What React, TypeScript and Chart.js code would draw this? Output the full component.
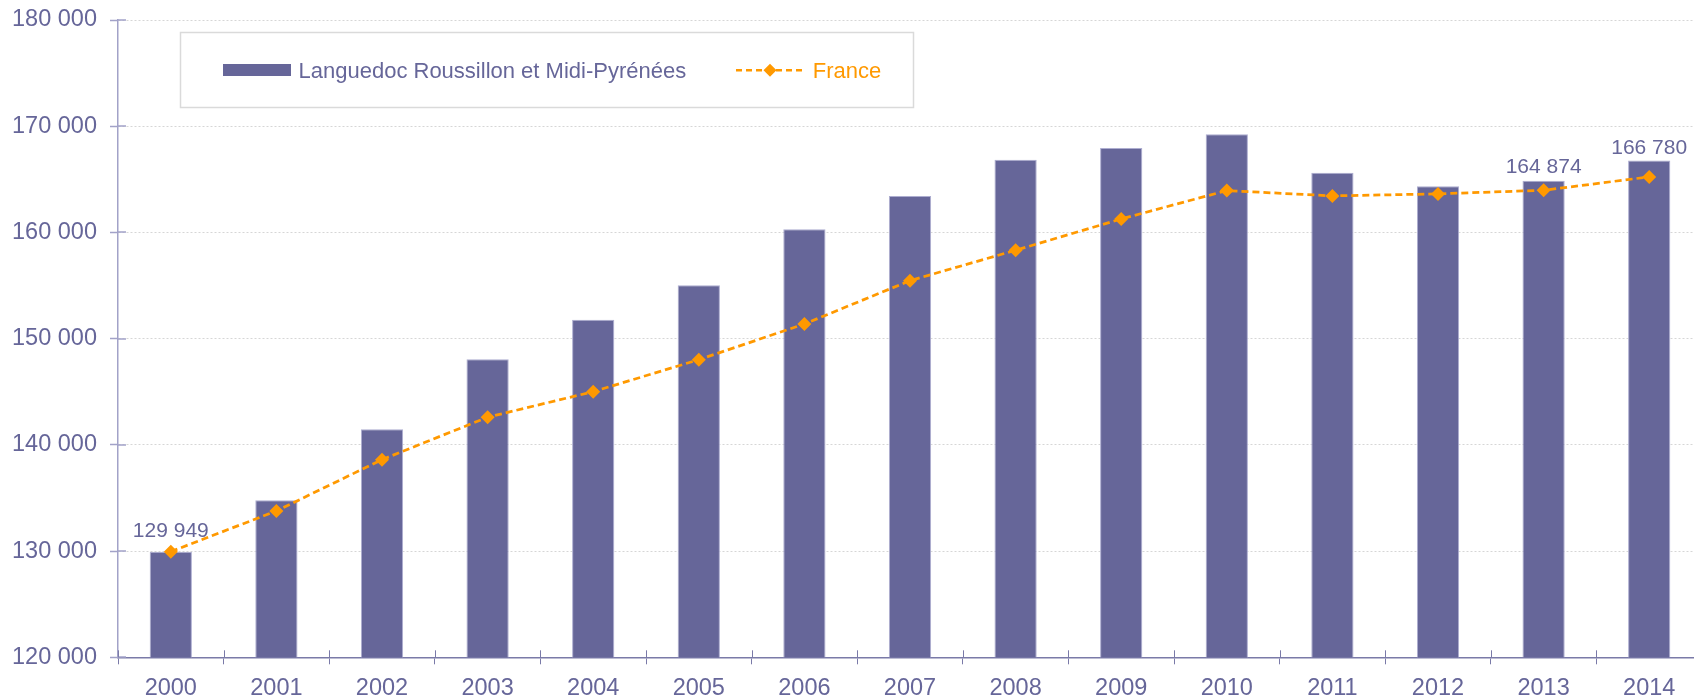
import React, { useEffect, useRef } from 'react';
import { Chart, registerables } from 'chart.js';

Chart.register(...registerables);

const years = ['2000', '2001', '2002', '2003', '2004', '2005', '2006', '2007', '2008', '2009', '2010', '2011', '2012', '2013', '2014'];
const regionValues = [129949, 134790, 141470, 148060, 151780, 155030, 160300, 163440, 166840, 167960, 169250, 165630, 164350, 164874, 166780];
const franceValues = [129949, 133780, 138610, 142600, 145010, 148020, 151380, 155460, 158320, 161270, 163940, 163440, 163630, 163970, 165230];
const labelledYears = ['2000', '2013', '2014'];
const seriesNames = ['Languedoc Roussillon et Midi-Pyrénées', 'France'];
const yMin = 120000;
const yMax = 180000;
const yStep = 10000;

const FONT = '"Liberation Sans", Arial, sans-serif';
const TEXT = '#666699';
const BAR = '#666699';
const ORANGE = '#FF9900';
const AXIS_X = '#7a7aa8';
const AXIS_Y = '#a2a2c8';

const fmt = (v: number) => String(Math.round(v)).replace(/\B(?=(\d{3})+(?!\d))/g, ' ');

const labelOffsets: Record<string, number> = { '2000': 15, '2013': 8, '2014': 6 };

const innerTicks = {
  id: 'innerTicks',
  afterDraw(chart: any) {
    const { ctx, scales } = chart;
    const x = scales.x;
    const y = scales.y;
    ctx.save();
    ctx.lineWidth = 1.5;
    ctx.strokeStyle = AXIS_Y;
    y.ticks.forEach((_t: any, i: number) => {
      const py = Math.round(y.getPixelForTick(i));
      ctx.beginPath();
      ctx.moveTo(x.left, py);
      ctx.lineTo(x.left + 8, py);
      ctx.stroke();
    });
    ctx.lineWidth = 1;
    ctx.strokeStyle = AXIS_X;
    const n = years.length;
    const w = (x.right - x.left) / n;
    for (let i = 0; i <= n; i++) {
      const px = Math.round(x.left + i * w) + 0.5;
      ctx.beginPath();
      ctx.moveTo(px, y.bottom);
      ctx.lineTo(px, y.bottom - 7);
      ctx.stroke();
    }
    ctx.restore();
  },
};

const barLabels = {
  id: 'barLabels',
  afterDatasetsDraw(chart: any) {
    const { ctx } = chart;
    const idx = chart.data.datasets.findIndex((d: any) => d.type === 'bar');
    const meta = chart.getDatasetMeta(idx);
    ctx.save();
    ctx.font = `21px ${FONT}`;
    ctx.fillStyle = TEXT;
    ctx.textAlign = 'center';
    ctx.textBaseline = 'alphabetic';
    meta.data.forEach((el: any, i: number) => {
      const yr = years[i];
      if (!labelledYears.includes(yr)) return;
      ctx.fillText(fmt(regionValues[i]), el.x, el.y - (labelOffsets[yr] ?? 8));
    });
    ctx.restore();
  },
};

const diamond = (ctx: any, cx: number, cy: number, r: number) => {
  ctx.beginPath();
  ctx.moveTo(cx - r, cy);
  ctx.lineTo(cx, cy - r);
  ctx.lineTo(cx + r, cy);
  ctx.lineTo(cx, cy + r);
  ctx.closePath();
  ctx.fill();
};

const customLegend = {
  id: 'customLegend',
  afterDraw(chart: any) {
    const { ctx } = chart;
    const ds = chart.data.datasets;
    const barDs = ds.find((d: any) => d.type === 'bar');
    const lineDs = ds.find((d: any) => d.type === 'line');
    ctx.save();
    ctx.fillStyle = '#ffffff';
    ctx.fillRect(180.5, 32.5, 733, 75);
    ctx.strokeStyle = '#dadada';
    ctx.lineWidth = 1.5;
    ctx.strokeRect(180.5, 32.5, 733, 75);

    ctx.fillStyle = BAR;
    ctx.fillRect(223, 64, 68, 12);

    ctx.font = `22px ${FONT}`;
    ctx.textBaseline = 'alphabetic';
    ctx.textAlign = 'left';
    ctx.fillStyle = TEXT;
    ctx.fillText(barDs.label, 298.5, 77.7);

    ctx.strokeStyle = ORANGE;
    ctx.lineWidth = 2.5;
    ctx.setLineDash([6, 4]);
    ctx.beginPath();
    ctx.moveTo(736, 70.3);
    ctx.lineTo(805, 70.3);
    ctx.stroke();
    ctx.setLineDash([]);
    ctx.fillStyle = ORANGE;
    diamond(ctx, 770, 70.3, 6.5);

    ctx.fillStyle = ORANGE;
    ctx.fillText(lineDs.label, 812.7, 77.7);
    ctx.restore();
  },
};

export default function App() {
  const ref = useRef<HTMLCanvasElement>(null);
  useEffect(() => {
    const chart = new Chart(ref.current as HTMLCanvasElement, {
      data: {
        labels: years,
        datasets: [
          {
            type: 'line',
            label: seriesNames[1],
            data: franceValues,
            borderColor: ORANGE,
            backgroundColor: ORANGE,
            borderWidth: 2.75,
            borderDash: [7, 4],
            pointStyle: 'rectRot',
            pointRadius: 7,
            pointBorderWidth: 0,
            pointBackgroundColor: ORANGE,
            tension: 0,
            order: 0,
          } as any,
          {
            type: 'bar',
            label: seriesNames[0],
            data: regionValues,
            backgroundColor: BAR,
            borderColor: '#adadd0',
            borderWidth: 1,
            categoryPercentage: 1,
            barPercentage: 0.4,
            order: 1,
          } as any,
        ],
      },
      options: {
        responsive: false,
        animation: false,
        layout: { padding: { left: 0, right: 10, top: 20, bottom: 0 } },
        plugins: { legend: { display: false }, tooltip: { enabled: false } },
        scales: {
          x: {
            type: 'category',
            offset: true,
            grid: { offset: true, drawOnChartArea: false, drawTicks: true, tickLength: 7, tickColor: AXIS_X, tickWidth: 1 },
            border: { color: AXIS_X, width: 1.5 },
            ticks: { color: TEXT, font: { family: FONT, size: 23.5 }, padding: 10, maxRotation: 0, autoSkip: false },
            afterFit: (s: any) => {
              s.height = 696 - 657.3;
              s.paddingLeft = 0;
              s.paddingRight = 0;
              s.paddingTop = 0;
              s.paddingBottom = 0;
            },
          },
          y: {
            min: yMin,
            max: yMax,
            ticks: { stepSize: yStep, color: TEXT, font: { family: FONT, size: 23.5 }, padding: 13, callback: (v: any) => fmt(Number(v)) },
            grid: { color: '#d6d6d6', lineWidth: 1, drawTicks: true, tickLength: 8, tickColor: AXIS_Y, tickWidth: 1.5 },
            border: { color: AXIS_Y, width: 1.5, dash: [2, 2] },
            afterFit: (s: any) => {
              s.width = 118;
              s.paddingTop = 0;
              s.paddingBottom = 0;
              s.paddingLeft = 0;
              s.paddingRight = 0;
            },
          },
        },
      } as any,
      plugins: [innerTicks, barLabels, customLegend],
    });
    return () => chart.destroy();
  }, []);
  return (
    <div style={{ position: 'fixed', left: 0, top: 0, width: 1694, height: 696, overflow: 'hidden', background: '#ffffff' }}>
      <canvas ref={ref} width={1712} height={696} style={{ display: 'block' }} />
    </div>
  );
}
